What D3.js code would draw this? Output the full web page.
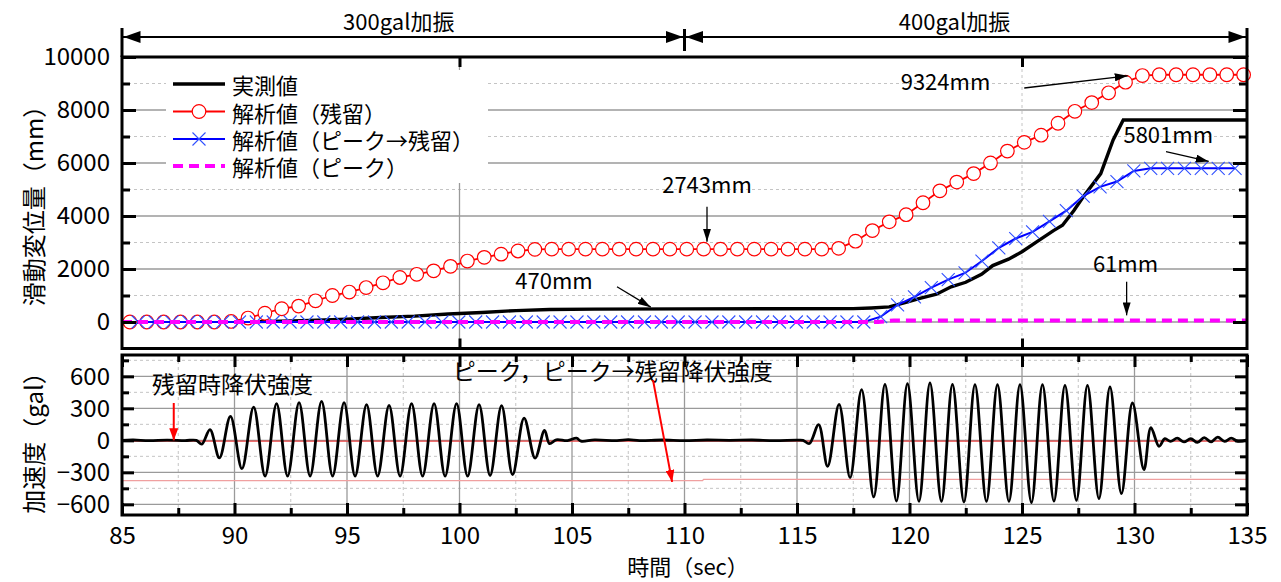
<!DOCTYPE html>
<html>
<head>
<meta charset="utf-8">
<script src="https://cdn.jsdelivr.net/npm/d3@7"></script>
<style>
  body { margin: 0; background: #fff; }
  text { font-family: "Noto Sans CJK JP", sans-serif; fill: #000; }
</style>
</head>
<body>
<svg id="chart" width="1281" height="582"></svg>
<script>
// ---- データ ----
// 実測値
const measT = [85, 89, 91, 93, 95, 96.5, 98, 99.5, 101, 102.5, 104, 106, 110, 114, 117.5, 118.3, 119.1, 119.8, 120.5, 121.2, 121.85, 122.5, 123.2, 123.7, 124.4, 125.0, 125.7, 126.4, 126.8, 127.3, 127.7, 128.5, 129.05, 129.5, 135];
const measV = [0, 0, 15, 50, 110, 170, 220, 300, 360, 430, 470, 485, 495, 500, 505, 530, 570, 730, 900, 1050, 1330, 1500, 1800, 2130, 2370, 2650, 3050, 3450, 3650, 4200, 4700, 5600, 6870, 7620, 7620];

// 解析値(残留)
const resT = [85.35, 86.10, 86.85, 87.60, 88.35, 89.10, 89.85, 90.60, 91.35, 92.10, 92.85, 93.60, 94.35, 95.10, 95.85, 96.60, 97.35, 98.10, 98.85, 99.60, 100.35, 101.10, 101.85, 102.60, 103.35, 104.10, 104.85, 105.60, 106.35, 107.10, 107.85, 108.60, 109.35, 110.10, 110.85, 111.60, 112.35, 113.10, 113.85, 114.60, 115.35, 116.10, 116.85, 117.60, 118.35, 119.10, 119.85, 120.60, 121.35, 122.10, 122.85, 123.60, 124.35, 125.10, 125.85, 126.60, 127.35, 128.10, 128.85, 129.60, 130.35, 131.10, 131.85, 132.60, 133.35, 134.10, 134.85];
const resV = [0, 0, 0, 0, 0, 0, 20, 150, 330, 500, 600, 800, 1000, 1130, 1300, 1480, 1680, 1800, 1930, 2100, 2300, 2440, 2560, 2680, 2740, 2750, 2750, 2750, 2750, 2750, 2750, 2750, 2750, 2750, 2750, 2750, 2750, 2750, 2750, 2750, 2750, 2750, 2780, 3050, 3450, 3780, 4050, 4500, 4950, 5280, 5600, 6000, 6450, 6780, 7050, 7500, 7950, 8280, 8650, 9050, 9300, 9330, 9330, 9330, 9330, 9330, 9330];

// 解析値(ピーク→残留)
const pkResT = [85.72, 86.47, 87.22, 87.97, 88.72, 89.47, 90.22, 90.97, 91.72, 92.47, 93.22, 93.97, 94.72, 95.47, 96.22, 96.97, 97.72, 98.47, 99.22, 99.97, 100.72, 101.47, 102.22, 102.97, 103.72, 104.47, 105.22, 105.97, 106.72, 107.47, 108.22, 108.97, 109.72, 110.47, 111.22, 111.97, 112.72, 113.47, 114.22, 114.97, 115.72, 116.47, 117.22, 117.97, 118.72, 119.47, 120.22, 120.97, 121.72, 122.47, 123.22, 123.97, 124.72, 125.47, 126.22, 126.97, 127.72, 128.47, 129.22, 129.97, 130.72, 131.47, 132.22, 132.97, 133.72, 134.47];
const pkResV = [0, 0, 0, 0, 0, 0, 0, 0, 0, 0, 0, 0, 0, 0, 0, 0, 0, 0, 0, 0, 0, 0, 0, 0, 0, 0, 0, 0, 0, 0, 0, 0, 0, 0, 0, 0, 0, 0, 0, 0, 0, 0, 0, 0, 200, 650, 950, 1300, 1600, 1850, 2300, 2800, 3150, 3400, 3800, 4200, 4750, 5100, 5300, 5700, 5800, 5800, 5800, 5800, 5800, 5800];

// 解析値(ピーク)
const pkT = [85, 118.6, 119.3, 135];
const pkV = [0, 0, 61, 61];

// 加速度
const accT = [85, 85.5, 86.2, 87, 87.8, 88.3, 88.55, 88.91, 89.33, 89.82, 90.33, 90.85, 91.36, 91.87, 92.36, 92.87, 93.36, 93.87, 94.36, 94.87, 95.36, 95.87, 96.36, 96.87, 97.36, 97.87, 98.36, 98.87, 99.36, 99.87, 100.36, 100.87, 101.36, 101.87, 102.36, 102.87, 103.36, 103.78, 104.0, 104.3, 104.8, 105.2, 105.4, 106, 107, 107.5, 108, 109, 110, 111, 112, 113, 114, 115, 115.27, 115.55, 115.96, 116.36, 116.87, 117.36, 117.87, 118.41, 118.91, 119.42, 119.91, 120.42, 120.91, 121.42, 121.91, 122.42, 122.91, 123.42, 123.91, 124.42, 124.91, 125.42, 125.91, 126.42, 126.91, 127.42, 127.91, 128.42, 128.91, 129.42, 129.91, 130.42, 130.73, 131.09, 131.35, 131.6, 131.9, 132.2, 132.5, 132.8, 133.1, 133.4, 133.7, 134.0, 134.3, 134.6, 135];
const accV = [0, 3, -3, 2, -2, 0, -35, 100, -165, 225, -265, 312, -335, 344, -335, 353, -335, 366, -335, 353, -335, 334, -335, 328, -335, 344, -335, 344, -335, 344, -335, 335, -330, 325, -322, 209, -166, 94, -31, 5, -3, 20, -8, 4, -3, 6, -2, 3, -2, 3, 0, 3, -2, 2, 0, -30, 147, -244, 338, -350, 475, -531, 525, -569, 531, -572, 538, -572, 525, -578, 522, -572, 522, -572, 522, -584, 522, -570, 516, -562, 516, -547, 500, -500, 350, -275, 119, -56, 15, -10, 20, -15, 15, -20, 25, -15, 30, -10, 20, -10, 5];

// 降伏強度
const yieldResT = [85, 135];
const yieldResV = [-8, -8];
const yieldPkT = [85, 110.8, 110.85, 135];
const yieldPkV = [-378, -378, -366, -366];

// 目盛
const topMajor = [0, 2000, 4000, 6000, 8000, 10000];
const topMinor = [1000, 3000, 5000, 7000, 9000];
const topXTicks = [100, 125];
const botXMajor = [85, 90, 95, 100, 105, 110, 115, 120, 125, 130, 135];
const botXMinor = [87.5, 92.5, 97.5, 102.5, 107.5, 112.5, 117.5, 122.5, 127.5, 132.5];
const botYMajor = [-600, -300, 0, 300, 600];
const botYMinor = [-450, -150, 150, 450, 750];

const legendNames = ["実測値", "解析値（残留）", "解析値（ピーク→残留）", "解析値（ピーク）"];

const svg = d3.select("#chart");
const x = d3.scaleLinear().domain([85, 135]).range([122, 1247]);
const yTop = d3.scaleLinear().domain([-1000, 10000]).range([348.5, 57]);
const yBot = d3.scaleLinear().domain([-700, 800]).range([515, 355]);
const x0 = x(85), x1 = x(135);

// 矢印マーカー
const defs = svg.append("defs");
function addMarker(id, color, w, h) {
    defs.append("marker").attr("id", id)
        .attr("viewBox", `0 0 ${w} ${h}`).attr("refX", w).attr("refY", h / 2)
        .attr("markerWidth", w).attr("markerHeight", h).attr("markerUnits", "userSpaceOnUse")
        .attr("orient", "auto")
        .append("path").attr("d", `M0,0L${w},${h / 2}L0,${h}Z`).attr("fill", color);
}
addMarker("arrBlack", "#000", 13, 8);
addMarker("arrRed", "#ff0000", 12, 9);

// ---- 上段：グリッド ----
const gTop = svg.append("g");
gTop.selectAll(".gmin").data(topMinor).enter().append("line")
    .attr("x1", x0).attr("x2", x1).attr("y1", d => yTop(d)).attr("y2", d => yTop(d))
    .attr("stroke", "#c4c4c4").attr("stroke-dasharray", "3,3");
gTop.selectAll(".gmaj").data(topMajor).enter().append("line")
    .attr("x1", x0).attr("x2", x1).attr("y1", d => yTop(d)).attr("y2", d => yTop(d))
    .attr("stroke", "#9a9a9a").attr("stroke-width", 1.3);
gTop.append("line").attr("x1", x(100)).attr("x2", x(100)).attr("y1", yTop(10000)).attr("y2", yTop(-1000)).attr("stroke", "#9a9a9a").attr("stroke-width", 1.3);
gTop.append("line").attr("x1", x(125)).attr("x2", x(125)).attr("y1", yTop(10000)).attr("y2", yTop(-1000))
    .attr("stroke", "#c4c4c4").attr("stroke-dasharray", "3,3");

// 凡例の背景
svg.append("rect").attr("x", 166).attr("y", 70).attr("width", 322).attr("height", 113).attr("fill", "#fff");

// ---- 上段：系列 ----
const line = (tt, vv, ys) => d3.line().x(i => x(tt[i])).y(i => ys(vv[i]))(d3.range(tt.length));

svg.append("path").attr("d", line(measT, measV, yTop)).attr("fill", "none").attr("stroke", "#000").attr("stroke-width", 3.4);

svg.append("path").attr("d", line(resT, resV, yTop)).attr("fill", "none").attr("stroke", "#ff0000").attr("stroke-width", 1.8);
svg.append("g").selectAll("circle").data(resT).enter().append("circle")
    .attr("cx", d => x(d)).attr("cy", (d, i) => yTop(resV[i])).attr("r", 6.8)
    .attr("fill", "#fff").attr("stroke", "#ff0000").attr("stroke-width", 1.2);

svg.append("path").attr("d", line(pkResT, pkResV, yTop)).attr("fill", "none").attr("stroke", "#0000ff").attr("stroke-width", 2);
svg.append("g").selectAll("path").data(pkResT).enter().append("path")
    .attr("d", (d, i) => {
        const cx = x(d), cy = yTop(pkResV[i]), s = 6.5;
        return `M${cx - s},${cy - s}L${cx + s},${cy + s}M${cx - s},${cy + s}L${cx + s},${cy - s}`;
    })
    .attr("stroke", "#3050ff").attr("stroke-width", 1.1);

svg.append("path").attr("d", line(pkT, pkV, yTop)).attr("fill", "none").attr("stroke", "#ff00ff")
    .attr("stroke-width", 4).attr("stroke-dasharray", "10,6");

// ---- 上段：枠と目盛 ----
svg.append("rect").attr("x", x0).attr("y", yTop(10000)).attr("width", x1 - x0).attr("height", yTop(-1000) - yTop(10000))
    .attr("fill", "none").attr("stroke", "#000").attr("stroke-width", 3);

svg.append("g").attr("transform", `translate(${x0},0)`)
    .call(d3.axisLeft(yTop).tickValues(topMajor).tickSizeInner(-14).tickSizeOuter(0).tickPadding(12).tickFormat(d3.format("d")));
svg.append("g").attr("transform", `translate(${x0},0)`)
    .call(d3.axisLeft(yTop).tickValues(topMinor).tickSizeInner(-8).tickSizeOuter(0).tickFormat(""));
svg.append("g").attr("transform", `translate(${x1},0)`)
    .call(d3.axisRight(yTop).tickValues(topMajor).tickSizeInner(-14).tickSizeOuter(0).tickFormat(""));
svg.append("g").attr("transform", `translate(${x1},0)`)
    .call(d3.axisRight(yTop).tickValues(topMinor).tickSizeInner(-8).tickSizeOuter(0).tickFormat(""));
svg.append("g").attr("transform", `translate(0,${yTop(10000)})`)
    .call(d3.axisTop(x).tickValues(topXTicks).tickSizeInner(-10).tickSizeOuter(0).tickFormat(""));
svg.append("g").attr("transform", `translate(0,${yTop(-1000)})`)
    .call(d3.axisBottom(x).tickValues(topXTicks).tickSizeInner(-10).tickSizeOuter(0).tickFormat(""));

// ---- 下段：グリッド ----
const yb0 = yBot(800), yb1 = yBot(-700);
svg.append("g").selectAll("line").data(botYMinor).enter().append("line")
    .attr("x1", x0).attr("x2", x1).attr("y1", d => yBot(d)).attr("y2", d => yBot(d))
    .attr("stroke", "#c4c4c4").attr("stroke-dasharray", "3,3");
svg.append("g").selectAll("line").data(botXMinor).enter().append("line")
    .attr("x1", d => x(d)).attr("x2", d => x(d)).attr("y1", yb0).attr("y2", yb1)
    .attr("stroke", "#c4c4c4").attr("stroke-dasharray", "3,3");
svg.append("g").selectAll("line").data(botYMajor).enter().append("line")
    .attr("x1", x0).attr("x2", x1).attr("y1", d => yBot(d)).attr("y2", d => yBot(d))
    .attr("stroke", "#9a9a9a").attr("stroke-width", 1.3);
svg.append("g").selectAll("line").data(botXMajor.slice(1, -1)).enter().append("line")
    .attr("x1", d => x(d)).attr("x2", d => x(d)).attr("y1", yb0).attr("y2", yb1)
    .attr("stroke", "#9a9a9a").attr("stroke-width", 1.3);

// 降伏強度ライン
svg.append("path").attr("d", line(yieldResT, yieldResV, yBot)).attr("fill", "none").attr("stroke", "#e84040").attr("stroke-width", 1.2);
svg.append("path").attr("d", line(yieldPkT, yieldPkV, yBot)).attr("fill", "none").attr("stroke", "#f0a0a0").attr("stroke-width", 1.4);

// 加速度波形
svg.append("path")
    .attr("d", d3.line().x(i => x(accT[i])).y(i => yBot(accV[i])).curve(d3.curveCatmullRom.alpha(0.5))(d3.range(accT.length)))
    .attr("fill", "none").attr("stroke", "#000").attr("stroke-width", 2.8).attr("stroke-linejoin", "round");

// ---- 下段：枠と目盛 ----
svg.append("rect").attr("x", x0).attr("y", yb0).attr("width", x1 - x0).attr("height", yb1 - yb0)
    .attr("fill", "none").attr("stroke", "#000").attr("stroke-width", 3);

svg.append("g").attr("transform", `translate(0,${yb1})`)
    .call(d3.axisBottom(x).tickValues(botXMajor).tickSizeInner(-12).tickSizeOuter(0).tickPadding(12).tickFormat(d3.format("d")));
svg.append("g").attr("transform", `translate(0,${yb1})`)
    .call(d3.axisBottom(x).tickValues(botXMinor).tickSizeInner(-7).tickSizeOuter(0).tickFormat(""));
svg.append("g").attr("transform", `translate(0,${yb0})`)
    .call(d3.axisTop(x).tickValues(botXMajor).tickSizeInner(-12).tickSizeOuter(0).tickFormat(""));
svg.append("g").attr("transform", `translate(0,${yb0})`)
    .call(d3.axisTop(x).tickValues(botXMinor).tickSizeInner(-7).tickSizeOuter(0).tickFormat(""));
svg.append("g").attr("transform", `translate(${x0},0)`)
    .call(d3.axisLeft(yBot).tickValues(botYMajor).tickSizeInner(-12).tickSizeOuter(0).tickPadding(12).tickFormat(d3.format("d")));
svg.append("g").attr("transform", `translate(${x0},0)`)
    .call(d3.axisLeft(yBot).tickValues(botYMinor).tickSizeInner(-7).tickSizeOuter(0).tickFormat(""));
svg.append("g").attr("transform", `translate(${x1},0)`)
    .call(d3.axisRight(yBot).tickValues(botYMajor).tickSizeInner(-12).tickSizeOuter(0).tickFormat(""));
svg.append("g").attr("transform", `translate(${x1},0)`)
    .call(d3.axisRight(yBot).tickValues(botYMinor).tickSizeInner(-7).tickSizeOuter(0).tickFormat(""));

// 軸のスタイル
svg.selectAll(".domain").remove();
svg.selectAll(".tick line").attr("stroke", "#000").attr("stroke-width", 3);
svg.selectAll(".tick text").style("font-size", "24px").attr("fill", "#000");

// ---- 軸ラベル ----
svg.append("text").attr("transform", "translate(32,200) rotate(-90)").attr("text-anchor", "middle")
    .attr("dominant-baseline", "central").style("font-size", "24px").text("滑動変位量（mm）");
svg.append("text").attr("transform", "translate(32,437) rotate(-90)").attr("text-anchor", "middle")
    .attr("dominant-baseline", "central").style("font-size", "24px").text("加速度（gal）");
svg.append("text").attr("x", 688).attr("y", 565).attr("text-anchor", "middle")
    .attr("dominant-baseline", "central").style("font-size", "22px").text("時間（sec）");

// ---- 加振区間 ----
const spanY = 37;
svg.append("line").attr("x1", x0).attr("x2", x1).attr("y1", spanY).attr("y2", spanY).attr("stroke", "#000").attr("stroke-width", 1.8);
[[85, 28, 57], [110, 29, 51], [135, 28, 57]].forEach(([t, a, b]) => {
    svg.append("line").attr("x1", x(t)).attr("x2", x(t)).attr("y1", a).attr("y2", b).attr("stroke", "#000").attr("stroke-width", 3);
});
[[85, 1], [110, -1], [110, 1], [135, -1]].forEach(([t, dir]) => {
    const px = x(t) + dir * 1.5;
    svg.append("path").attr("d", `M${px},${spanY}L${px + dir * 17},${spanY - 6}L${px + dir * 17},${spanY + 6}Z`).attr("fill", "#000");
});
svg.append("text").attr("x", x(97.3)).attr("y", 20).attr("text-anchor", "middle").attr("dominant-baseline", "central")
    .style("font-size", "22px").text("300gal加振");
svg.append("text").attr("x", x(122)).attr("y", 20).attr("text-anchor", "middle").attr("dominant-baseline", "central")
    .style("font-size", "22px").text("400gal加振");

// ---- 注記 ----
const notes = [
    { text: "9324mm", t: 121.6, v: 9130, a: [125.1, 8830, 129.7, 9290] },
    { text: "5801mm", t: 131.5, v: 7130, a: [131.4, 6430, 133.3, 6060] },
    { text: "2743mm", t: 111.0, v: 5245, a: [111.0, 4350, 111.0, 3030] },
    { text: "470mm", t: 104.2, v: 1620, a: [107.0, 1330, 108.5, 560] },
    { text: "61mm", t: 129.6, v: 2260, a: [129.65, 1520, 129.65, 250] }
];
notes.forEach(n => {
    svg.append("text").attr("x", x(n.t)).attr("y", yTop(n.v)).attr("text-anchor", "middle")
        .attr("dominant-baseline", "central").style("font-size", "22px").text(n.text);
    svg.append("line").attr("x1", x(n.a[0])).attr("y1", yTop(n.a[1])).attr("x2", x(n.a[2])).attr("y2", yTop(n.a[3]))
        .attr("stroke", "#000").attr("stroke-width", 1.3).attr("marker-end", "url(#arrBlack)");
});

svg.append("text").attr("x", x(86.33)).attr("y", yBot(537)).attr("dominant-baseline", "central")
    .style("font-size", "23px").text("残留時降伏強度");
svg.append("line").attr("x1", x(87.3)).attr("y1", yBot(350)).attr("x2", x(87.3)).attr("y2", yBot(0))
    .attr("stroke", "#ff0000").attr("stroke-width", 2).attr("marker-end", "url(#arrRed)");
svg.append("text").attr("x", x(99.7)).attr("y", yBot(660)).attr("dominant-baseline", "central")
    .style("font-size", "23px").text("ピーク，ピーク→残留降伏強度");
svg.append("line").attr("x1", x(108.6)).attr("y1", yBot(565)).attr("x2", x(109.45)).attr("y2", yBot(-390))
    .attr("stroke", "#ff0000").attr("stroke-width", 2).attr("marker-end", "url(#arrRed)");

// ---- 凡例 ----
const legY = [84, 111.5, 139, 166];
const lg = svg.append("g");
lg.append("line").attr("x1", 173).attr("x2", 225).attr("y1", legY[0]).attr("y2", legY[0]).attr("stroke", "#000").attr("stroke-width", 3.4);
lg.append("line").attr("x1", 173).attr("x2", 225).attr("y1", legY[1]).attr("y2", legY[1]).attr("stroke", "#ff0000").attr("stroke-width", 1.8);
lg.append("circle").attr("cx", 199).attr("cy", legY[1]).attr("r", 6.8).attr("fill", "#fff").attr("stroke", "#ff0000").attr("stroke-width", 1.2);
lg.append("line").attr("x1", 173).attr("x2", 225).attr("y1", legY[2]).attr("y2", legY[2]).attr("stroke", "#0000ff").attr("stroke-width", 2);
lg.append("path").attr("d", `M192.5,${legY[2] - 6.5}L205.5,${legY[2] + 6.5}M192.5,${legY[2] + 6.5}L205.5,${legY[2] - 6.5}`)
    .attr("stroke", "#3050ff").attr("stroke-width", 1.1);
lg.append("line").attr("x1", 173).attr("x2", 225).attr("y1", legY[3]).attr("y2", legY[3]).attr("stroke", "#ff00ff")
    .attr("stroke-width", 4).attr("stroke-dasharray", "10,6");
lg.selectAll("text").data(legendNames).enter().append("text")
    .attr("x", 232).attr("y", (d, i) => legY[i]).attr("dominant-baseline", "central")
    .style("font-size", "22px").text(d => d);
</script>
</body>
</html>
